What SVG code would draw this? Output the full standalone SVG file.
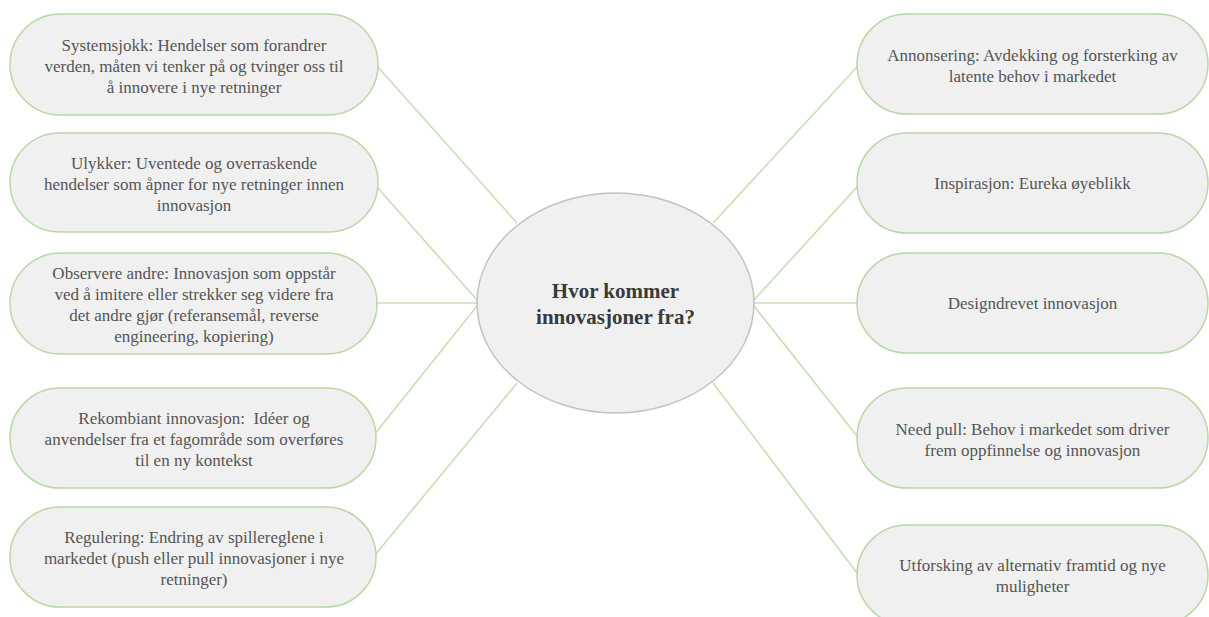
<svg xmlns="http://www.w3.org/2000/svg" width="1209" height="617" viewBox="0 0 1209 617">
<style>
.node{fill:#f0f0f0;stroke:#b9d8a5;stroke-width:1.5}
.t{font-family:"Liberation Serif","Times New Roman",serif;font-size:17px;fill:#555;text-anchor:middle}
.c{font-family:"Liberation Serif","Times New Roman",serif;font-size:21px;font-weight:bold;fill:#3a3a3a;text-anchor:middle}
.edge{stroke:#c6dfb4;stroke-width:1.6;fill:none}
</style>
<rect width="1209" height="617" fill="#ffffff"/>
<g id="connectors">
<line class="edge" x1="377" y1="66" x2="517" y2="223"/>
<line class="edge" x1="377" y1="187" x2="477" y2="300"/>
<line class="edge" x1="376" y1="303" x2="477" y2="303"/>
<line class="edge" x1="374" y1="435" x2="477" y2="306"/>
<line class="edge" x1="375" y1="555" x2="517" y2="383"/>
<line class="edge" x1="713" y1="223" x2="857" y2="67"/>
<line class="edge" x1="754" y1="300" x2="857" y2="187"/>
<line class="edge" x1="754" y1="303" x2="857" y2="303"/>
<line class="edge" x1="754" y1="306" x2="857" y2="436"/>
<line class="edge" x1="713" y1="383" x2="857" y2="573"/>
</g>
<g id="center">
<ellipse cx="615.5" cy="303" rx="138.5" ry="110" fill="#f0f0f0" stroke="#c2c2c2" stroke-width="1.5"/>
<text class="c" x="615.5" y="298">Hvor kommer</text>
<text class="c" x="615.5" y="324">innovasjoner fra?</text>
</g>
<g id="systemsjokk">
<rect class="node" x="10" y="14" width="368" height="101" rx="50.5"/>
<text class="t" x="194" y="51">Systemsjokk: Hendelser som forandrer</text>
<text class="t" x="194" y="72">verden, måten vi tenker på og tvinger oss til</text>
<text class="t" x="194" y="93">å innovere i nye retninger</text>
</g>
<g id="ulykker">
<rect class="node" x="10" y="133" width="368" height="99" rx="49.5"/>
<text class="t" x="194" y="169">Ulykker: Uventede og overraskende</text>
<text class="t" x="194" y="190">hendelser som åpner for nye retninger innen</text>
<text class="t" x="194" y="211">innovasjon</text>
</g>
<g id="observere">
<rect class="node" x="10" y="253" width="367" height="101" rx="50.5"/>
<text class="t" x="194" y="279">Observere andre: Innovasjon som oppstår</text>
<text class="t" x="194" y="300">ved å imitere eller strekker seg videre fra</text>
<text class="t" x="194" y="321">det andre gjør (referansemål, reverse</text>
<text class="t" x="194" y="342">engineering, kopiering)</text>
</g>
<g id="rekombiant">
<rect class="node" x="10" y="388" width="366" height="100" rx="50"/>
<text class="t" x="194" y="424" xml:space="preserve" style="white-space:pre">Rekombiant innovasjon:  Idéer og</text>
<text class="t" x="194" y="445">anvendelser fra et fagområde som overføres</text>
<text class="t" x="194" y="466">til en ny kontekst</text>
</g>
<g id="regulering">
<rect class="node" x="10" y="507" width="366" height="100" rx="50"/>
<text class="t" x="194" y="543">Regulering: Endring av spillereglene i</text>
<text class="t" x="194" y="564">markedet (push eller pull innovasjoner i nye</text>
<text class="t" x="194" y="585">retninger)</text>
</g>
<g id="annonsering">
<rect class="node" x="857" y="14" width="351" height="100" rx="50"/>
<text class="t" x="1032.5" y="61">Annonsering: Avdekking og forsterking av</text>
<text class="t" x="1032.5" y="82">latente behov i markedet</text>
</g>
<g id="inspirasjon">
<rect class="node" x="857" y="133" width="351" height="100" rx="50"/>
<text class="t" x="1032.5" y="189">Inspirasjon: Eureka øyeblikk</text>
</g>
<g id="designdrevet">
<rect class="node" x="857" y="253" width="351" height="100" rx="50"/>
<text class="t" x="1032.5" y="309">Designdrevet innovasjon</text>
</g>
<g id="needpull">
<rect class="node" x="857" y="388" width="351" height="100" rx="50"/>
<text class="t" x="1032.5" y="435">Need pull: Behov i markedet som driver</text>
<text class="t" x="1032.5" y="456">frem oppfinnelse og innovasjon</text>
</g>
<g id="utforsking">
<rect class="node" x="857" y="525" width="351" height="100" rx="50"/>
<text class="t" x="1032.5" y="571">Utforsking av alternativ framtid og nye</text>
<text class="t" x="1032.5" y="592">muligheter</text>
</g>
</svg>
